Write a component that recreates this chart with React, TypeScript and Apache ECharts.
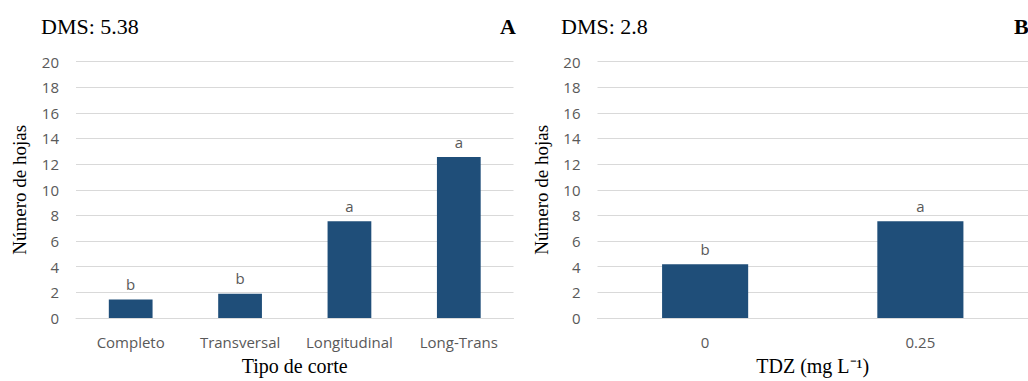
import React, { useEffect, useRef } from "react";
import * as echarts from "echarts";

const cutTypes = ["Completo", "Transversal", "Longitudinal", "Long-Trans"];
const leavesByCut = [1.45, 1.9, 7.55, 12.55];
const cutLetters = ["b", "b", "a", "a"];

const tdzLevels = ["0", "0.25"];
const leavesByTdz = [4.2, 7.55];
const tdzLetters = ["b", "a"];

const yTicks = { min: 0, max: 20, interval: 2 };
const panelTitles = ["DMS: 5.38", "DMS: 2.8"];
const panelLetters = ["A", "B"];

const BAR = "#1f4e79";
const GRAY = "#595959";
const GRID = "#d9d9d9";
const SANS = "'Open Sans', sans-serif";
const SERIF = "'Liberation Serif', 'Times New Roman', serif";

export default function App() {
  const ref = useRef<HTMLDivElement>(null);
  useEffect(() => {
    document.body.style.margin = "0";
    const chart = echarts.init(ref.current!, null, { renderer: "svg" });
    const yAxis = (gi: number) => ({
      type: "value",
      gridIndex: gi,
      min: yTicks.min,
      max: yTicks.max,
      interval: yTicks.interval,
      name: "Número de hojas",
      nameLocation: "middle",
      nameGap: 47,
      nameTextStyle: { fontFamily: SERIF, fontSize: 19, color: "#000" },
      axisLine: { show: false },
      axisTick: { show: false },
      axisLabel: { margin: 17, fontFamily: SANS, fontSize: 15, color: GRAY },
      splitLine: { lineStyle: { color: GRID, width: 1 } },
    });
    const xAxis = (gi: number, data: string[], name: string) => ({
      type: "category",
      gridIndex: gi,
      data,
      name,
      nameLocation: "middle",
      nameGap: 38,
      nameTextStyle: { fontFamily: SERIF, fontSize: 20, color: "#000" },
      axisLine: { lineStyle: { color: GRID, width: 1 } },
      axisTick: { show: false },
      axisLabel: { margin: 16, fontFamily: SANS, fontSize: 15, color: GRAY, interval: 0 },
    });
    const barSeries = (gi: number, values: number[], letters: string[]) => ({
      type: "bar",
      xAxisIndex: gi,
      yAxisIndex: gi,
      data: values,
      barWidth: "40%",
      itemStyle: { color: BAR },
      label: {
        show: true,
        position: "top",
        distance: 8,
        fontFamily: SANS,
        fontSize: 15,
        color: GRAY,
        formatter: (p: any) => letters[p.dataIndex],
      },
    });
    chart.setOption({
      animation: false,
      backgroundColor: "#fff",
      grid: [
        { left: 76, top: 61.5, width: 437.5, height: 262.5 },
        { left: 597.5, top: 61.5, width: 439, height: 262.5 },
      ],
      xAxis: [xAxis(0, cutTypes, "Tipo de corte"), xAxis(1, tdzLevels, "TDZ (mg L⁻¹)")],
      yAxis: [yAxis(0), yAxis(1)],
      series: [barSeries(0, leavesByCut, cutLetters), barSeries(1, leavesByTdz, tdzLetters)],
      graphic: [
        { type: "text", x: 41, y: 26, style: { text: panelTitles[0], font: `22px ${SERIF}`, fill: "#000", textVerticalAlign: "middle" } },
        { type: "text", x: 561, y: 26, style: { text: panelTitles[1], font: `22px ${SERIF}`, fill: "#000", textVerticalAlign: "middle" } },
        { type: "text", x: 500, y: 26, style: { text: panelLetters[0], font: `bold 22px ${SERIF}`, fill: "#000", textVerticalAlign: "middle" } },
        { type: "text", x: 1014, y: 26, style: { text: panelLetters[1], font: `bold 22px ${SERIF}`, fill: "#000", textVerticalAlign: "middle" } },
      ],
    });
    return () => chart.dispose();
  }, []);
  return <div ref={ref} style={{ width: 1028, height: 381 }} />;
}
